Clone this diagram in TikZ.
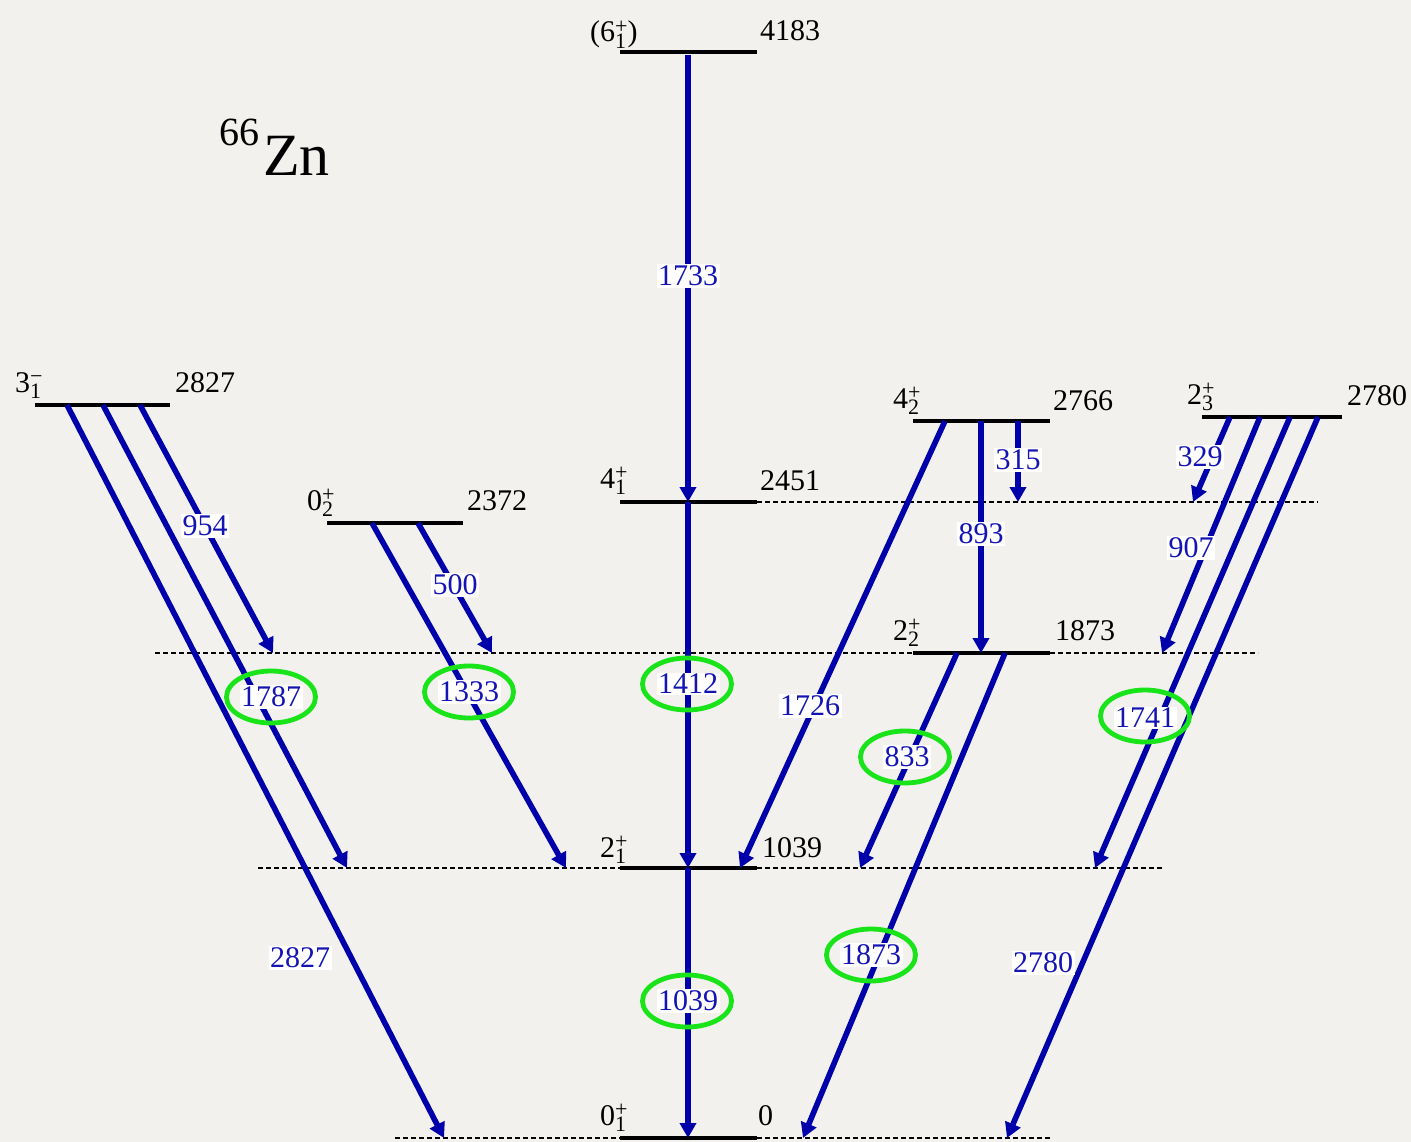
\documentclass[tikz,border=0pt]{standalone}
\usepackage{fontspec}
\setmainfont{Liberation Serif}
\usetikzlibrary{arrows.meta,shapes.geometric}
\definecolor{bg}{HTML}{F2F1ED}
\definecolor{tblue}{HTML}{0000AA}
\definecolor{lblue}{HTML}{1414B4}
\definecolor{ring}{RGB}{25,228,25}
\newcommand{\spn}[3]{#1{\fontsize{22}{22}\selectfont
  \setbox0\hbox{#2}\setbox2\hbox{#3}%
  \ifdim\wd0>\wd2 \dimen0=\wd0 \else \dimen0=\wd2 \fi
  \makebox[0pt][l]{\raisebox{0.40em}{\box0}}\makebox[0pt][l]{\raisebox{-0.30em}{\box2}}\hspace{\dimen0}}}
\tikzset{
  lev/.style={line width=3.4pt, draw=black},
  dsh/.style={line width=1.1pt, draw=black, dash pattern=on 5pt off 3pt},
  tr/.style={line width=5.6pt, draw=tblue, -{Triangle[length=15pt,width=16pt]}},
  lbl/.style={fill=white, text=lblue, inner sep=1.5pt, font=\fontsize{30}{30}\selectfont},
  ring/.style={ellipse, draw=ring, line width=4.8pt, minimum width=89pt, minimum height=52pt},
  spin/.style={anchor=base west, font=\fontsize{30}{30}\selectfont, inner sep=0pt},
  en/.style={anchor=base west, font=\fontsize{30}{30}\selectfont, inner sep=0pt}
}
\begin{document}
\begin{tikzpicture}[x=1pt,y=-1pt]
\fill[bg] (0,0) rectangle (1411,1142);
\useasboundingbox (0,0) rectangle (1411,1142);

% title
\node[anchor=base west, inner sep=0pt, font=\fontsize{40}{40}\selectfont] (iso) at (219,146) {66};
\node[anchor=base west, inner sep=0pt, font=\fontsize{60}{60}\selectfont] (zn) at (263,176) {Zn};

% dashed continuation lines
\draw[dsh] (757,502) -- (1318,502);
\draw[dsh] (155,653) -- (913,653);
\draw[dsh] (1050,653) -- (1258,653);
\draw[dsh] (258,868) -- (620,868);
\draw[dsh] (757,868) -- (1162,868);
\draw[dsh] (395,1138) -- (620,1138);
\draw[dsh] (757,1138) -- (1050,1138);

% levels
\coordinate (L6a) at (620,52);   \coordinate (L6b) at (757,52);
\coordinate (L4a) at (620,502);  \coordinate (L4b) at (757,502);
\coordinate (L2a) at (620,868);  \coordinate (L2b) at (757,868);
\coordinate (L0a) at (620,1138); \coordinate (L0b) at (757,1138);
\coordinate (L3a) at (35,405);   \coordinate (L3b) at (170,405);
\coordinate (L02a) at (327,523); \coordinate (L02b) at (463,523);
\coordinate (L42a) at (913,421); \coordinate (L42b) at (1050,421);
\coordinate (L23a) at (1202,417);\coordinate (L23b) at (1342,417);
\coordinate (L22a) at (913,653); \coordinate (L22b) at (1050,653);
\foreach \a/\b in {L6a/L6b,L4a/L4b,L2a/L2b,L0a/L0b,L3a/L3b,L02a/L02b,L42a/L42b,L23a/L23b,L22a/L22b}
  \draw[lev] (\a) -- (\b);

% level labels
\node[spin] (s6) at (590,42) {(\spn{6}{+}{1})};
\node[en] (e6) at (760,41) {4183};
\node[spin] (s41) at (600,488) {\spn{4}{+}{1}};
\node[en] (e41) at (760,490) {2451};
\node[spin] (s21) at (600,857) {\spn{2}{+}{1}};
\node[en] (e21) at (762,857) {1039};
\node[spin] (s01) at (600,1125) {\spn{0}{+}{1}};
\node[en] (e01) at (758,1125) {0};
\node[spin] (s31) at (15,392) {\spn{3}{−}{1}};
\node[en] (e31) at (175,392) {2827};
\node[spin] (s02) at (307,510) {\spn{0}{+}{2}};
\node[en] (e02) at (467,510) {2372};
\node[spin] (s42) at (893,408) {\spn{4}{+}{2}};
\node[en] (e42) at (1053,410) {2766};
\node[spin] (s23) at (1187,404) {\spn{2}{+}{3}};
\node[en] (e23) at (1347,405) {2780};
\node[spin] (s22) at (893,640) {\spn{2}{+}{2}};
\node[en] (e22) at (1055,640) {1873};

% transition end points
\coordinate (a1733) at (688,55);   \coordinate (b1733) at (688,502);
\coordinate (a1412) at (688,502);  \coordinate (b1412) at (688,868);
\coordinate (a1039) at (688,868);  \coordinate (b1039) at (688,1138);
\coordinate (a954) at (140,405);   \coordinate (b954) at (273,653);
\coordinate (a1787) at (103,405);  \coordinate (b1787) at (347,868);
\coordinate (a2827) at (67,405);   \coordinate (b2827) at (444,1138);
\coordinate (a500) at (418,523);   \coordinate (b500) at (492,653);
\coordinate (a1333) at (372,523);  \coordinate (b1333) at (566,868);
\coordinate (a1726) at (945,421);  \coordinate (b1726) at (740,868);
\coordinate (a893) at (981,421);   \coordinate (b893) at (981,653);
\coordinate (a315) at (1018,421);  \coordinate (b315) at (1018,502);
\coordinate (a833) at (957,653);   \coordinate (b833) at (860,868);
\coordinate (a1873) at (1005,653); \coordinate (b1873) at (803,1138);
\coordinate (a329) at (1230,417);  \coordinate (b329) at (1193,502);
\coordinate (a907) at (1260,417);  \coordinate (b907) at (1162,653);
\coordinate (a1741) at (1290,417); \coordinate (b1741) at (1095,868);
\coordinate (a2780) at (1318,417); \coordinate (b2780) at (1007,1138);

\foreach \t in {1733,1412,1039,954,1787,2827,500,1333,1726,893,315,833,1873,329,907,1741,2780}
  \draw[tr] (a\t) -- (b\t);

% rings
\node[ring] (r1787) at (271,697) {};
\node[ring] (r1333) at (469,692) {};
\node[ring] (r1412) at (687,684) {};
\node[ring] (r1039) at (687,1001) {};
\node[ring] (r833) at (905,757) {};
\node[ring] (r1873) at (871,955) {};
\node[ring] (r1741) at (1145,716) {};

% transition labels
\node[lbl] (n1733) at (688,276) {1733};
\node[lbl] (n1412) at (688,684) {1412};
\node[lbl] (n1039) at (688,1001) {1039};
\node[lbl] (n954) at (205,526) {954};
\node[lbl] (n1787) at (271,697) {1787};
\node[lbl] (n2827) at (300,958) {2827};
\node[lbl] (n500) at (455,585) {500};
\node[lbl] (n1333) at (469,692) {1333};
\node[lbl] (n1726) at (810,706) {1726};
\node[lbl] (n893) at (981,534) {893};
\node[lbl] (n315) at (1018,460) {315};
\node[lbl] (n833) at (907,757) {833};
\node[lbl] (n1873) at (871,955) {1873};
\node[lbl] (n329) at (1200,457) {329};
\node[lbl] (n907) at (1191,548) {907};
\node[lbl] (n1741) at (1145,718) {1741};
\node[lbl] (n2780) at (1043,963) {2780};
\end{tikzpicture}
\end{document}
